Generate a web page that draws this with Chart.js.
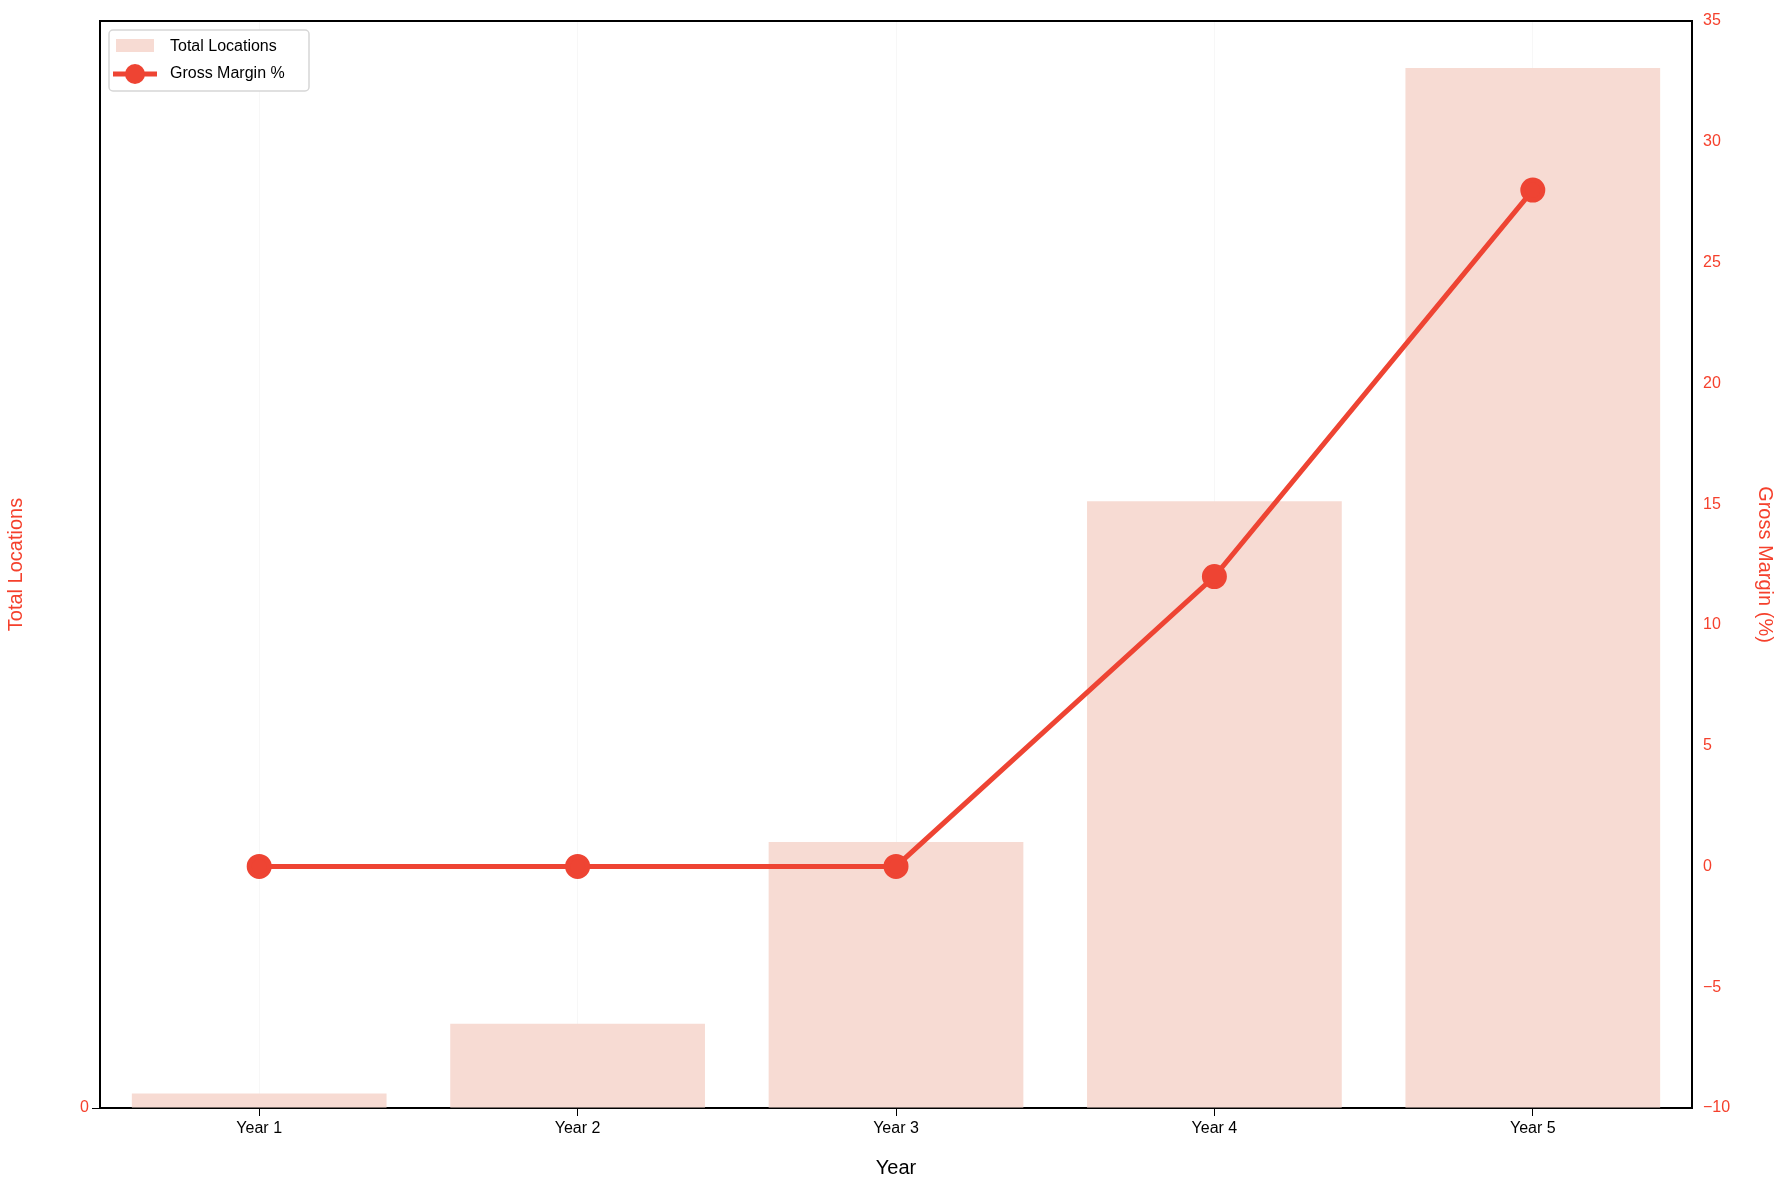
<!DOCTYPE html><html><head><script src="https://cdn.jsdelivr.net/npm/chart.js@4"></script>
<style>body{margin:0;background:#fff}#w{width:1781px;height:1184px}</style></head><body><div id="w"><canvas id="c"></canvas></div>
<script>
const years=["Year 1","Year 2","Year 3","Year 4","Year 5"];
const totalLocations=[60,350,1105,2520,4320];
const grossMargin=[0,0,0,12,28];
const red='#ee4433', tickRed='#f5402c';
const F='Liberation Sans, Arial, sans-serif';
new Chart(document.getElementById('c'),{
data:{labels:years,datasets:[
{type:'line',label:'Gross Margin %',data:grossMargin,yAxisID:'y1',borderColor:red,backgroundColor:red,borderWidth:5,pointRadius:10,pointHoverRadius:10,order:0},
{type:'bar',label:'Total Locations',data:totalLocations,yAxisID:'y',backgroundColor:'#f7dbd3',categoryPercentage:0.8,barPercentage:1,order:1}]},
options:{responsive:true,maintainAspectRatio:false,animation:false,
layout:{padding:{top:21,right:0,left:0,bottom:0}},
plugins:{legend:{display:false},tooltip:{enabled:false}},
scales:{
x:{grid:{color:'rgba(0,0,0,0.03)',tickColor:'#000',tickLength:8,offset:false},border:{color:'#000',width:2},ticks:{color:'#000',font:{family:F,size:16}},title:{display:true,text:'Year',color:'#000',font:{family:F,size:20}},afterFit:s=>{s.height=76}},
y:{position:'left',min:0,max:4515,ticks:{stepSize:1000,color:tickRed,font:{family:F,size:16},callback:v=>v%1000===0?v:null},grid:{color:'rgba(0,0,0,0.03)',tickColor:'#000',tickLength:8},border:{color:'#000',width:2},title:{display:true,text:'Total Locations',color:tickRed,font:{family:F,size:20}},afterFit:s=>{s.width=100}},
y1:{position:'right',min:-10,max:35,ticks:{stepSize:5,color:tickRed,font:{family:F,size:16},callback:v=>v<0?'\u2212'+(-v):v},grid:{display:false,tickColor:'#000',tickLength:8},border:{color:'#000',width:2},title:{display:true,text:'Gross Margin (%)',color:tickRed,font:{family:F,size:20}},afterFit:s=>{s.width=89}}}},
plugins:[{id:'frame',afterDraw(ch){const a=ch.chartArea,x=ch.ctx;x.save();x.strokeStyle='#000';x.lineWidth=2;x.beginPath();x.moveTo(a.left,a.top);x.lineTo(a.right,a.top);x.stroke();
// legend
const lx=109,ly=30;x.fillStyle='#fff';x.strokeStyle='#d6d6d6';x.lineWidth=1.5;x.beginPath();x.roundRect(lx,ly,200,61,4);x.fill();x.stroke();
x.fillStyle='#f7dbd3';x.fillRect(lx+7,ly+9,38,13);
x.strokeStyle=red;x.lineWidth=5;x.beginPath();x.moveTo(lx+4,ly+44);x.lineTo(lx+48,ly+44);x.stroke();
x.fillStyle=red;x.beginPath();x.arc(lx+26,ly+44,10,0,Math.PI*2);x.fill();
x.fillStyle='#000';x.font='16px '+F;x.textBaseline='middle';x.fillText('Total Locations',lx+61,ly+17);x.fillText('Gross Margin %',lx+61,ly+44);x.restore();}}]
});
</script></body></html>
